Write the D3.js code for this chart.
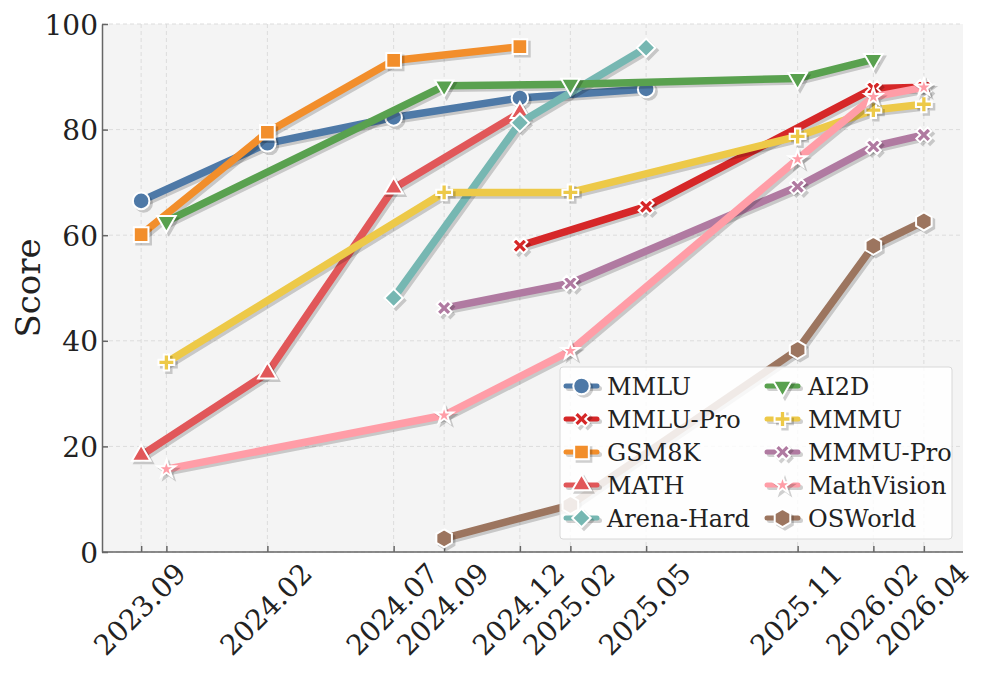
<!DOCTYPE html>
<html>
<head>
<meta charset="utf-8">
<script src="https://cdn.jsdelivr.net/npm/d3@7"></script>
<style>
  body { margin: 0; background: #fff; }
  svg { display: block; }
</style>
</head>
<body>
<div class="chart"></div>
<script>
// ticks on the x axis (month labels); 2023.10 has a tick but no label
const tickDates = ["2023.09", "2023.10", "2024.02", "2024.07", "2024.09", "2024.12", "2025.02", "2025.05", "2025.11", "2026.02", "2026.04"];
const tickLabels = ["2023.09", "", "2024.02", "2024.07", "2024.09", "2024.12", "2025.02", "2025.05", "2025.11", "2026.02", "2026.04"];
const yTicks = [0, 20, 40, 60, 80, 100];

// series: [date, score]
const mmlu = [["2023.09", 66.5], ["2024.02", 77.4], ["2024.07", 82.3], ["2024.12", 86.0], ["2025.05", 87.7]];
const mmluPro = [["2024.12", 58.0], ["2025.05", 65.4], ["2026.02", 87.8], ["2026.04", 88.0]];
const gsm8k = [["2023.09", 60.1], ["2024.02", 79.5], ["2024.07", 93.1], ["2024.12", 95.7]];
const math = [["2023.09", 18.3], ["2024.02", 33.9], ["2024.07", 68.9], ["2024.12", 83.2]];
const arenaHard = [["2024.07", 48.1], ["2024.12", 81.3], ["2025.05", 95.5]];
const ai2d = [["2023.10", 62.6], ["2024.09", 88.3], ["2025.02", 88.6], ["2025.11", 89.7], ["2026.02", 93.3]];
const mmmu = [["2023.10", 35.9], ["2024.09", 68.1], ["2025.02", 68.1], ["2025.11", 78.7], ["2026.02", 83.7], ["2026.04", 84.8]];
const mmmuPro = [["2024.09", 46.2], ["2025.02", 50.9], ["2025.11", 69.2], ["2026.02", 76.8], ["2026.04", 79.0]];
const mathVision = [["2023.10", 15.7], ["2024.09", 25.9], ["2025.02", 38.1], ["2025.11", 74.4], ["2026.02", 86.2], ["2026.04", 88.0]];
const osWorld = [["2024.09", 2.6], ["2025.02", 8.9], ["2025.11", 38.3], ["2026.02", 58.0], ["2026.04", 62.6]];

const seriesNames = ["MMLU", "MMLU-Pro", "GSM8K", "MATH", "Arena-Hard", "AI2D", "MMMU", "MMMU-Pro", "MathVision", "OSWorld"];
const seriesData = [mmlu, mmluPro, gsm8k, math, arenaHard, ai2d, mmmu, mmmuPro, mathVision, osWorld];
const seriesColors = ["#4e79a7", "#d62728", "#f28e2b", "#e15759", "#76b7b2", "#59a14f", "#edc948", "#b07aa1", "#ff9da7", "#9c755f"];
const seriesMarkers = ["circle", "x", "square", "triangle", "diamond", "triangleDown", "plus", "x", "star", "hexagon"];

const width = 996, height = 679;
const margin = {top: 24, right: 33, bottom: 127, left: 102};
const serif = "DejaVu Serif";

// months since 2023.09
function monthIndex(s) {
    const [y, m] = s.split(".").map(Number);
    return (y - 2023) * 12 + (m - 9);
}

const svg = d3.select(".chart").append("svg")
    .attr("width", width)
    .attr("height", height)
    .attr("font-family", serif);

const x = d3.scaleLinear()
    .domain([-1.55, 32.55])
    .range([margin.left, width - margin.right]);
const y = d3.scaleLinear()
    .domain([0, 100])
    .range([height - margin.bottom, margin.top]);

// plot background
svg.append("rect")
    .attr("x", margin.left)
    .attr("y", margin.top)
    .attr("width", width - margin.right - margin.left)
    .attr("height", height - margin.bottom - margin.top)
    .attr("fill", "#f4f4f4");

// grid
const grid = svg.append("g").attr("stroke", "#dcdcdc").attr("stroke-width", 1).attr("stroke-dasharray", "4,3");
grid.selectAll(".gx").data(tickDates).enter().append("line")
    .attr("x1", d => x(monthIndex(d))).attr("x2", d => x(monthIndex(d)))
    .attr("y1", margin.top).attr("y2", height - margin.bottom);
grid.selectAll(".gy").data(yTicks).enter().append("line")
    .attr("x1", margin.left).attr("x2", width - margin.right)
    .attr("y1", d => y(d)).attr("y2", d => y(d));

// axes
const xAxis = d3.axisBottom(x)
    .tickValues(tickDates.map(monthIndex))
    .tickSizeInner(-6).tickSizeOuter(0)
    .tickFormat((d, i) => tickLabels[i]);
const gx = svg.append("g")
    .attr("transform", "translate(0," + (height - margin.bottom) + ")")
    .call(xAxis)
    .attr("font-family", serif);
gx.select(".domain").attr("stroke", "#666").attr("stroke-width", 1.5)
    .attr("d", "M" + margin.left + ",0H" + (width - margin.right));
gx.selectAll(".tick line").attr("stroke", "#666").attr("stroke-width", 1.5);
gx.selectAll(".tick text")
    .attr("font-size", 28)
    .attr("fill", "#222")
    .attr("text-anchor", "middle")
    .attr("y", 0).attr("dy", "0.36em")
    .attr("transform", "translate(-2,57) rotate(-45)");

const yAxis = d3.axisLeft(y).tickValues(yTicks).tickSizeInner(-6).tickSizeOuter(0).tickPadding(5);
const gy = svg.append("g")
    .attr("transform", "translate(" + margin.left + ",0)")
    .call(yAxis)
    .attr("font-family", serif);
gy.select(".domain").attr("stroke", "#666").attr("stroke-width", 1.5);
gy.selectAll(".tick line").attr("stroke", "#666").attr("stroke-width", 1.5);
gy.selectAll(".tick text").attr("font-size", 28).attr("fill", "#222").attr("x", -4).attr("dy", "0.36em");

svg.append("text")
    .attr("transform", "translate(28," + ((margin.top + height - margin.bottom) / 2) + ") rotate(-90)")
    .attr("text-anchor", "middle")
    .attr("dy", "0.36em")
    .attr("font-family", serif)
    .attr("font-size", 34)
    .attr("fill", "#222")
    .text("Score");

// marker paths
function hexagonPath(r) {
    const pts = d3.range(6).map(k => {
        const a = Math.PI / 2 + k * Math.PI / 3;
        return [r * Math.cos(a), -r * Math.sin(a)];
    });
    return d3.line()(pts) + "Z";
}

function markerPath(type) {
    switch (type) {
        case "circle": return d3.symbol().type(d3.symbolCircle).size(215)();
        case "square": return d3.symbol().type(d3.symbolSquare).size(215)();
        case "triangle": return d3.symbol().type(d3.symbolTriangle).size(150)();
        case "triangleDown": return d3.symbol().type(d3.symbolTriangle).size(150)();
        case "diamond": return d3.symbol().type(d3.symbolSquare).size(170)();
        case "plus": return d3.symbol().type(d3.symbolCross).size(140)();
        case "x": return d3.symbol().type(d3.symbolCross).size(140)();
        case "star": return d3.symbol().type(d3.symbolStar).size(95)();
        case "hexagon": return hexagonPath(9);
    }
}

function markerRotation(type) {
    if (type === "triangleDown") return " rotate(180)";
    if (type === "diamond" || type === "x") return " rotate(45)";
    return "";
}

const line = d3.line()
    .x(d => x(monthIndex(d[0])))
    .y(d => y(d[1]));

const shadowDx = 2.5, shadowDy = 2.5;

function drawMarker(g, type, color, px, py) {
    g.append("path")
        .attr("d", markerPath(type))
        .attr("transform", "translate(" + (px + shadowDx) + "," + (py + shadowDy) + ")" + markerRotation(type))
        .attr("fill", "#000").attr("opacity", 0.18)
        .attr("stroke", "#000").attr("stroke-width", 2);
    g.append("path")
        .attr("d", markerPath(type))
        .attr("transform", "translate(" + px + "," + py + ")" + markerRotation(type))
        .attr("fill", color)
        .attr("stroke", "#fff").attr("stroke-width", 2)
        .attr("stroke-linejoin", "miter");
}

const plot = svg.append("g");
seriesData.forEach((data, i) => {
    const g = plot.append("g");
    g.append("path")
        .datum(data)
        .attr("d", line)
        .attr("transform", "translate(" + shadowDx + "," + shadowDy + ")")
        .attr("fill", "none")
        .attr("stroke", "#000").attr("stroke-opacity", 0.18)
        .attr("stroke-width", 7.5)
        .attr("stroke-linejoin", "round").attr("stroke-linecap", "round");
    g.append("path")
        .datum(data)
        .attr("d", line)
        .attr("fill", "none")
        .attr("stroke", seriesColors[i])
        .attr("stroke-width", 7.5)
        .attr("stroke-linejoin", "round").attr("stroke-linecap", "round");
    data.forEach(d => drawMarker(g, seriesMarkers[i], seriesColors[i], x(monthIndex(d[0])), y(d[1])));
});

// legend
const legend = svg.append("g");
legend.append("rect")
    .attr("x", 560).attr("y", 367)
    .attr("width", 392).attr("height", 172)
    .attr("rx", 3)
    .attr("fill", "#fff").attr("fill-opacity", 0.85)
    .attr("stroke", "#d8d8d8").attr("stroke-width", 1);

seriesNames.forEach((name, i) => {
    const col = Math.floor(i / 5), row = i % 5;
    const hx = 566 + col * 201, hy = 386 + row * 33;
    const g = legend.append("g");
    g.append("line")
        .attr("x1", hx + shadowDx).attr("x2", hx + 31 + shadowDx)
        .attr("y1", hy + shadowDy).attr("y2", hy + shadowDy)
        .attr("stroke", "#000").attr("stroke-opacity", 0.18)
        .attr("stroke-width", 5).attr("stroke-linecap", "round");
    g.append("line")
        .attr("x1", hx).attr("x2", hx + 31)
        .attr("y1", hy).attr("y2", hy)
        .attr("stroke", seriesColors[i])
        .attr("stroke-width", 5).attr("stroke-linecap", "round");
    drawMarker(g, seriesMarkers[i], seriesColors[i], hx + 15.5, hy);
    g.append("text")
        .attr("x", hx + 41).attr("y", hy)
        .attr("dy", "0.36em")
        .style("font-family", "'DejaVu Serif', serif")
        .attr("font-size", 24)
        .attr("fill", "#222")
        .text(name);
});
</script>
</body>
</html>
